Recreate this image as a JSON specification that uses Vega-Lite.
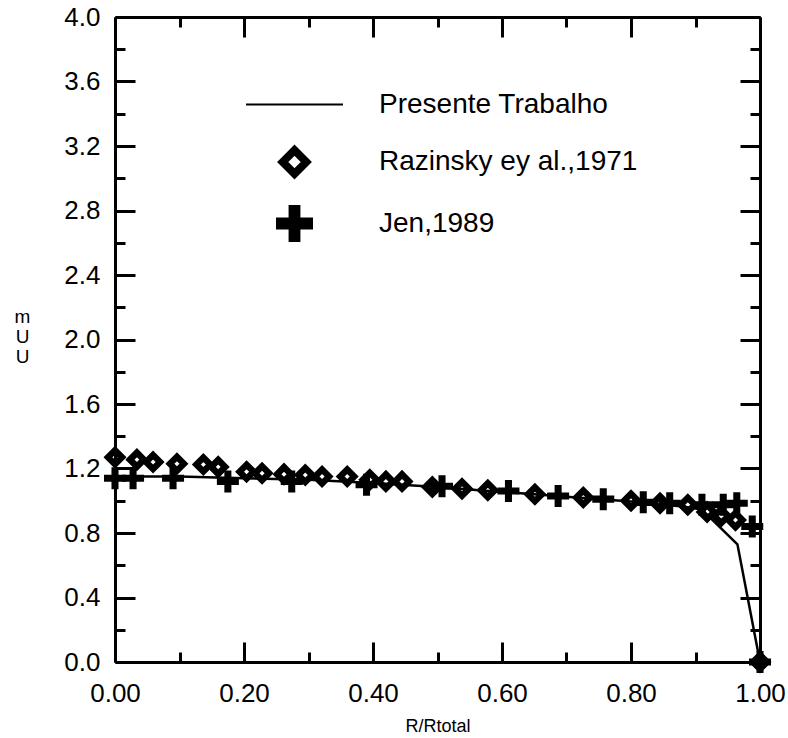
{
  "$schema": "https://vega.github.io/schema/vega-lite/v6.json",
  "width": 645,
  "height": 645,
  "autosize": "none",
  "padding": {"left": 115, "top": 17, "right": 28, "bottom": 76},
  "background": "white",
  "config": {
    "font": "Liberation Sans",
    "view": {"stroke": null},
    "axis": {
      "domainColor": "black",
      "domainWidth": 3,
      "tickColor": "black",
      "tickWidth": 3,
      "grid": false,
      "labelColor": "black",
      "labelFontSize": 26,
      "labelFont": "Liberation Sans",
      "labelFlush": false,
      "labelOverlap": false,
      "labelBound": false,
      "titleColor": "black",
      "titleFont": "Liberation Sans",
      "titleFontWeight": "normal"
    },
    "legend": {
      "orient": "none",
      "legendX": 130,
      "legendY": 38,
      "title": null,
      "labelOffset": 35,
      "labelFontSize": 28,
      "labelFont": "Liberation Sans",
      "labelColor": "black",
      "labelLimit": 500,
      "rowPadding": 15,
      "symbolFillColor": "black",
      "symbolStrokeColor": "black",
      "symbolOpacity": 1
    }
  },
  "datasets": {
    "line": [
      {"series": "Presente Trabalho", "r": 0.0, "u": 1.15},
      {"series": "Presente Trabalho", "r": 0.1, "u": 1.15},
      {"series": "Presente Trabalho", "r": 0.2, "u": 1.14},
      {"series": "Presente Trabalho", "r": 0.3, "u": 1.13},
      {"series": "Presente Trabalho", "r": 0.4, "u": 1.11},
      {"series": "Presente Trabalho", "r": 0.5, "u": 1.085},
      {"series": "Presente Trabalho", "r": 0.6, "u": 1.055},
      {"series": "Presente Trabalho", "r": 0.7, "u": 1.025},
      {"series": "Presente Trabalho", "r": 0.8, "u": 0.995},
      {"series": "Presente Trabalho", "r": 0.88, "u": 0.965},
      {"series": "Presente Trabalho", "r": 0.91, "u": 0.945},
      {"series": "Presente Trabalho", "r": 0.965, "u": 0.73},
      {"series": "Presente Trabalho", "r": 1.0, "u": 0.0}
    ],
    "pts": [
      {"series": "Razinsky ey al.,1971", "r": 0.0, "u": 1.27},
      {"series": "Razinsky ey al.,1971", "r": 0.034, "u": 1.255},
      {"series": "Razinsky ey al.,1971", "r": 0.059, "u": 1.24},
      {"series": "Razinsky ey al.,1971", "r": 0.096, "u": 1.23},
      {"series": "Razinsky ey al.,1971", "r": 0.137, "u": 1.225},
      {"series": "Razinsky ey al.,1971", "r": 0.16, "u": 1.21},
      {"series": "Razinsky ey al.,1971", "r": 0.204, "u": 1.18},
      {"series": "Razinsky ey al.,1971", "r": 0.228, "u": 1.17},
      {"series": "Razinsky ey al.,1971", "r": 0.262, "u": 1.165},
      {"series": "Razinsky ey al.,1971", "r": 0.295, "u": 1.16},
      {"series": "Razinsky ey al.,1971", "r": 0.321, "u": 1.15},
      {"series": "Razinsky ey al.,1971", "r": 0.36, "u": 1.15},
      {"series": "Razinsky ey al.,1971", "r": 0.395, "u": 1.13},
      {"series": "Razinsky ey al.,1971", "r": 0.42, "u": 1.12},
      {"series": "Razinsky ey al.,1971", "r": 0.445, "u": 1.12},
      {"series": "Razinsky ey al.,1971", "r": 0.492, "u": 1.085},
      {"series": "Razinsky ey al.,1971", "r": 0.538, "u": 1.075},
      {"series": "Razinsky ey al.,1971", "r": 0.578, "u": 1.065},
      {"series": "Razinsky ey al.,1971", "r": 0.651, "u": 1.04},
      {"series": "Razinsky ey al.,1971", "r": 0.726, "u": 1.02},
      {"series": "Razinsky ey al.,1971", "r": 0.8, "u": 1.0},
      {"series": "Razinsky ey al.,1971", "r": 0.845, "u": 0.985},
      {"series": "Razinsky ey al.,1971", "r": 0.888, "u": 0.975},
      {"series": "Razinsky ey al.,1971", "r": 0.918, "u": 0.93},
      {"series": "Razinsky ey al.,1971", "r": 0.94, "u": 0.905},
      {"series": "Razinsky ey al.,1971", "r": 0.962, "u": 0.88},
      {"series": "Razinsky ey al.,1971", "r": 1.0, "u": 0.0},
      {"series": "Jen,1989", "r": 0.0, "u": 1.14},
      {"series": "Jen,1989", "r": 0.028, "u": 1.14},
      {"series": "Jen,1989", "r": 0.09, "u": 1.14},
      {"series": "Jen,1989", "r": 0.175, "u": 1.12},
      {"series": "Jen,1989", "r": 0.274, "u": 1.12},
      {"series": "Jen,1989", "r": 0.39, "u": 1.1},
      {"series": "Jen,1989", "r": 0.507, "u": 1.09},
      {"series": "Jen,1989", "r": 0.61, "u": 1.06},
      {"series": "Jen,1989", "r": 0.687, "u": 1.03},
      {"series": "Jen,1989", "r": 0.757, "u": 1.01},
      {"series": "Jen,1989", "r": 0.819, "u": 0.99},
      {"series": "Jen,1989", "r": 0.86, "u": 0.985},
      {"series": "Jen,1989", "r": 0.91, "u": 0.975},
      {"series": "Jen,1989", "r": 0.943, "u": 0.975},
      {"series": "Jen,1989", "r": 0.964, "u": 0.985},
      {"series": "Jen,1989", "r": 0.988, "u": 0.84},
      {"series": "Jen,1989", "r": 1.0, "u": 0.0}
    ],
    "legendonly": []
  },
  "layer": [
    {
      "data": {"name": "line"},
      "mark": {"type": "line", "color": "black", "strokeWidth": 2.5},
      "encoding": {
        "x": {
          "field": "r", "type": "quantitative",
          "scale": {"domain": [0, 1], "nice": false, "zero": false},
          "axis": {
            "orient": "bottom",
            "values": [0, 0.1, 0.2, 0.3, 0.4, 0.5, 0.6, 0.7, 0.8, 0.9, 1.0],
            "labelExpr": "abs(datum.value*5 - round(datum.value*5)) < 0.001 ? format(datum.value, '.2f') : ''",
            "tickSize": {"condition": {"test": "abs(datum.value*5 - round(datum.value*5)) < 0.001", "value": -20}, "value": -10},
            "labelPadding": 38,
            "title": "R/Rtotal",
            "titleFontSize": 18,
            "titlePadding": 1
          }
        },
        "y": {
          "field": "u", "type": "quantitative",
          "scale": {"domain": [0, 4], "nice": false, "zero": false},
          "axis": {
            "orient": "left",
            "values": [0, 0.2, 0.4, 0.6, 0.8, 1.0, 1.2, 1.4, 1.6, 1.8, 2.0, 2.2, 2.4, 2.6, 2.8, 3.0, 3.2, 3.4, 3.6, 3.8, 4.0],
            "labelExpr": "abs(datum.value/0.4 - round(datum.value/0.4)) < 0.001 ? format(datum.value, '.1f') : ''",
            "tickSize": {"condition": {"test": "abs(datum.value/0.4 - round(datum.value/0.4)) < 0.001", "value": -20}, "value": -10},
            "labelPadding": 35,
            "title": ["m", "U", "U"],
            "titleAngle": 0,
            "titleFontSize": 19,
            "titleLineHeight": 20,
            "titleAlign": "center",
            "titleBaseline": "top",
            "titleX": -93,
            "titleY": 290
          }
        }
      }
    },
    {
      "data": {"name": "pts"},
      "mark": {"type": "point", "color": "black", "opacity": 1},
      "encoding": {
        "x": {
          "field": "r", "type": "quantitative",
          "scale": {"domain": [0, 1], "nice": false, "zero": false},
          "axis": {
            "orient": "top",
            "values": [0, 0.1, 0.2, 0.3, 0.4, 0.5, 0.6, 0.7, 0.8, 0.9, 1.0],
            "labels": false,
            "tickSize": {"condition": {"test": "abs(datum.value*5 - round(datum.value*5)) < 0.001", "value": -20}, "value": -10},
            "title": null
          }
        },
        "y": {
          "field": "u", "type": "quantitative",
          "scale": {"domain": [0, 4], "nice": false, "zero": false},
          "axis": {
            "orient": "right",
            "values": [0, 0.2, 0.4, 0.6, 0.8, 1.0, 1.2, 1.4, 1.6, 1.8, 2.0, 2.2, 2.4, 2.6, 2.8, 3.0, 3.2, 3.4, 3.6, 3.8, 4.0],
            "labels": false,
            "tickSize": {"condition": {"test": "abs(datum.value/0.4 - round(datum.value/0.4)) < 0.001", "value": -20}, "value": -10},
            "title": null
          }
        },
        "shape": {
          "field": "series", "type": "nominal",
          "scale": {
            "domain": ["Presente Trabalho", "Razinsky ey al.,1971", "Jen,1989"],
            "range": ["stroke", "diamond", "M-1,-0.32H-0.32V-1H0.32V-0.32H1V0.32H0.32V1H-0.32V0.32H-1Z"]
          }
        },
        "size": {"condition": {"test": "datum.series === 'Jen,1989'", "value": 484}, "value": 196},
        "fill": {"condition": {"test": "datum.series === 'Jen,1989'", "value": "black"}, "value": "transparent"},
        "strokeWidth": {"condition": {"test": "datum.series === 'Jen,1989'", "value": 0}, "value": 6.4}
      }
    },
    {
      "data": {"name": "legendonly"},
      "mark": {"type": "point", "color": "black", "opacity": 1},
      "encoding": {
        "shape": {
          "field": "series", "type": "nominal",
          "scale": {
            "domain": ["Presente Trabalho", "Razinsky ey al.,1971", "Jen,1989"],
            "range": ["stroke", "diamond", "M-1,-0.32H-0.32V-1H0.32V-0.32H1V0.32H0.32V1H-0.32V0.32H-1Z"]
          }
        },
        "size": {
          "field": "series", "type": "nominal",
          "scale": {"type": "ordinal", "domain": ["Presente Trabalho", "Razinsky ey al.,1971", "Jen,1989"], "range": [9409, 552, 1369]}
        },
        "fill": {
          "field": "series", "type": "nominal",
          "scale": {"domain": ["Presente Trabalho", "Razinsky ey al.,1971", "Jen,1989"], "range": ["transparent", "transparent", "black"]}
        },
        "strokeWidth": {
          "field": "series", "type": "nominal",
          "scale": {"type": "ordinal", "domain": ["Presente Trabalho", "Razinsky ey al.,1971", "Jen,1989"], "range": [2, 8, 0]}
        }
      }
    }
  ],
  "resolve": {"axis": {"x": "independent", "y": "independent"}}
}
